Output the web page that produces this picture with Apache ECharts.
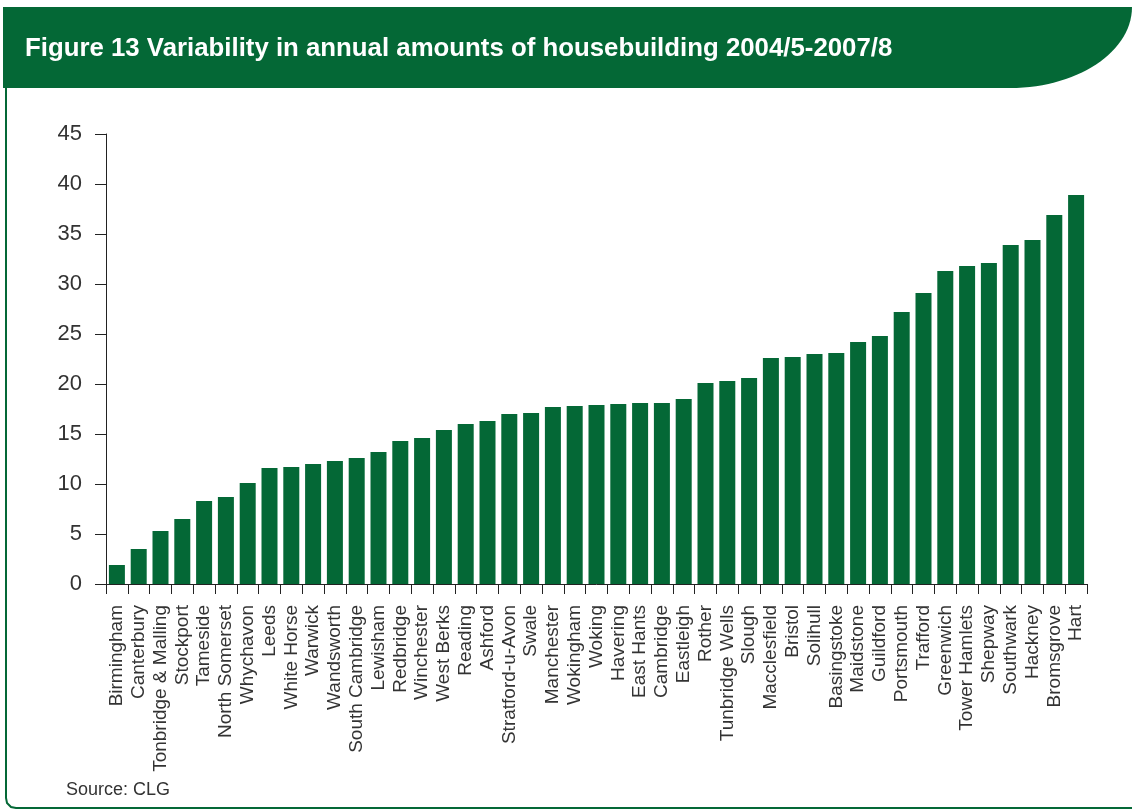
<!DOCTYPE html>
<html>
<head>
<meta charset="utf-8">
<script src="https://cdn.jsdelivr.net/npm/echarts@6/dist/echarts.min.js"></script>
<style>
  html, body { margin: 0; padding: 0; background: #fff; }
  #chart { width: 1132px; height: 809px; }
</style>
</head>
<body>
<div id="chart"></div>
<script>
const areas = ['Birmingham', 'Canterbury', 'Tonbridge & Malling', 'Stockport', 'Tameside', 'North Somerset',
  'Whychavon', 'Leeds', 'White Horse', 'Warwick', 'Wandsworth', 'South Cambridge', 'Lewisham', 'Redbridge',
  'Winchester', 'West Berks', 'Reading', 'Ashford', 'Stratford-u-Avon', 'Swale', 'Manchester', 'Wokingham',
  'Woking', 'Havering', 'East Hants', 'Cambridge', 'Eastleigh', 'Rother', 'Tunbridge Wells', 'Slough',
  'Macclesfield', 'Bristol', 'Solihull', 'Basingstoke', 'Maidstone', 'Guildford', 'Portsmouth', 'Trafford',
  'Greenwich', 'Tower Hamlets', 'Shepway', 'Southwark', 'Hackney', 'Bromsgrove', 'Hart'];

const variability = [1.9, 3.5, 5.3, 6.5, 8.3, 8.7, 10.1, 11.6, 11.7, 12.0, 12.3, 12.6, 13.2, 14.3,
  14.6, 15.4, 16.0, 16.3, 17.0, 17.1, 17.7, 17.8, 17.9, 18.0, 18.1, 18.1, 18.5, 20.1, 20.3, 20.6,
  22.6, 22.7, 23.0, 23.1, 24.2, 24.8, 27.2, 29.1, 31.3, 31.8, 32.1, 33.9, 34.4, 36.9, 38.9];

const titleText = 'Figure 13 Variability in annual amounts of housebuilding 2004/5-2007/8';
const sourceText = 'Source: CLG';

const green = '#046836';
const font = '"Liberation Sans", Arial, sans-serif';

// header band: flat left, curved bottom-right corner
function headerPoints() {
  const pts = [[3, 7], [1132, 7]];
  const p0 = [1132, 7], c1 = [1132, 52], c2 = [1077, 88], p3 = [1010, 88];
  for (let i = 1; i <= 30; i++) {
    const t = i / 30, u = 1 - t;
    pts.push([
      u * u * u * p0[0] + 3 * u * u * t * c1[0] + 3 * u * t * t * c2[0] + t * t * t * p3[0],
      u * u * u * p0[1] + 3 * u * u * t * c1[1] + 3 * u * t * t * c2[1] + t * t * t * p3[1]
    ]);
  }
  pts.push([3, 88]);
  return pts;
}

const chart = echarts.init(document.getElementById('chart'));

const option = {
  animation: false,
  textStyle: { fontFamily: font },
  graphic: [
    {
      type: 'polygon',
      shape: { points: headerPoints() },
      style: { fill: green }
    },
    {
      type: 'polyline',
      shape: { points: [[6, 88], [6, 798], [7, 803], [11, 807], [16, 808], [1132, 808]] },
      style: { fill: null, stroke: green, lineWidth: 2 }
    },
    {
      type: 'text',
      left: 25,
      top: 36,
      style: {
        text: titleText,
        fill: '#fff',
        font: 'bold 25.8px ' + font
      }
    },
    {
      type: 'text',
      left: 66,
      top: 781,
      style: {
        text: sourceText,
        fill: '#333',
        font: '18px ' + font
      }
    }
  ],
  grid: {
    left: 106,
    right: 45,
    top: 134,
    bottom: 225
  },
  xAxis: {
    type: 'category',
    data: areas,
    axisLine: { lineStyle: { color: '#222', width: 1 } },
    axisTick: { show: true, length: 10, lineStyle: { color: '#222' } },
    axisLabel: {
      interval: 0,
      rotate: 90,
      margin: 21,
      fontSize: 19,
      color: '#333',
      fontFamily: font
    }
  },
  yAxis: {
    type: 'value',
    min: 0,
    max: 45,
    interval: 5,
    splitLine: { show: false },
    axisLine: { show: true, lineStyle: { color: '#222', width: 1 } },
    axisTick: { show: true, length: 11, lineStyle: { color: '#222' } },
    axisLabel: {
      margin: 24,
      fontSize: 22,
      color: '#333',
      fontFamily: font
    }
  },
  series: [{
    type: 'bar',
    data: variability,
    barWidth: 16,
    itemStyle: { color: green }
  }]
};

chart.setOption(option);
</script>
</body>
</html>
